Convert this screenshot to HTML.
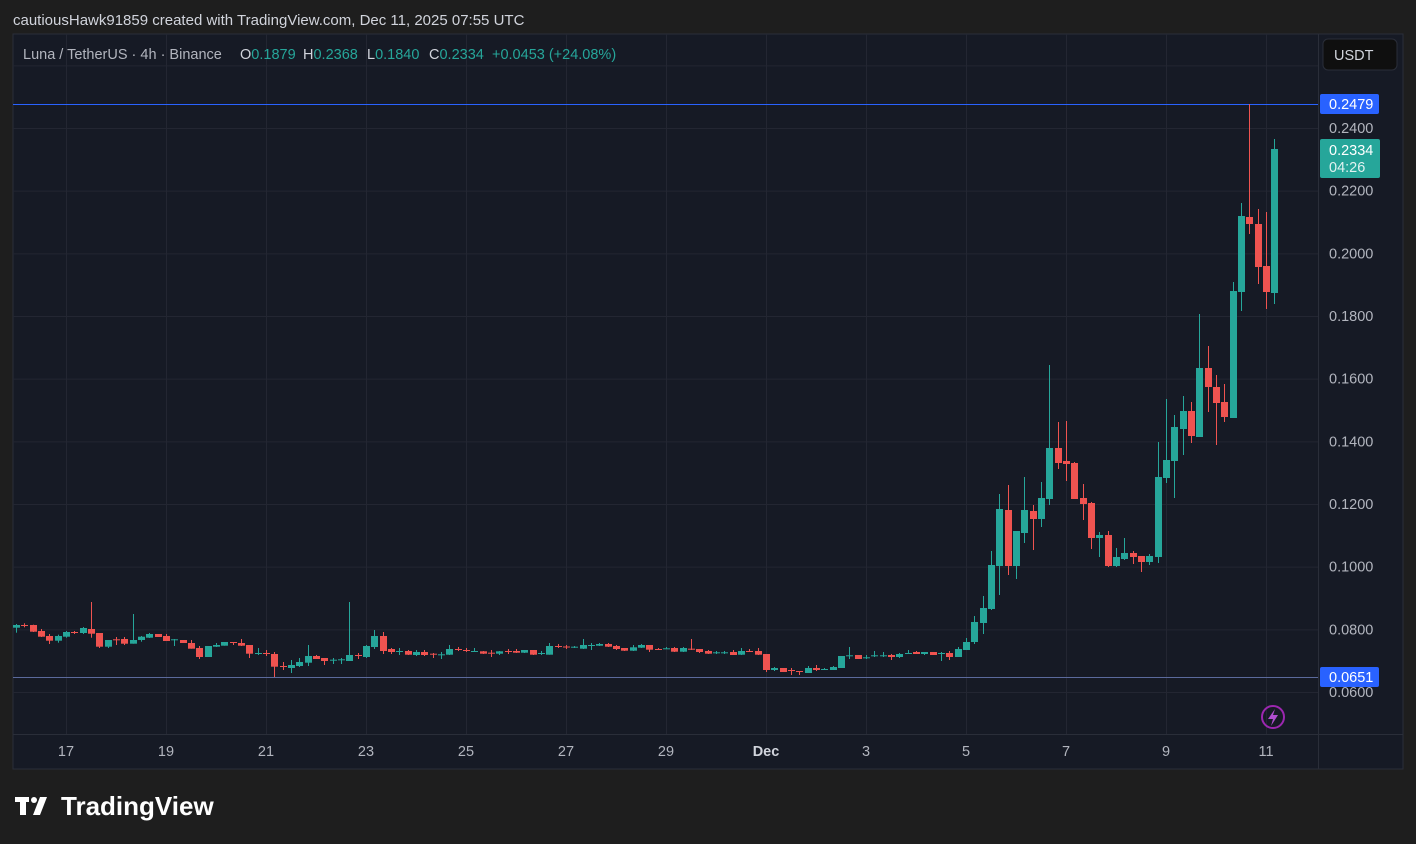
<!DOCTYPE html>
<html><head><meta charset="utf-8"><style>
body{margin:0;width:1416px;height:844px;background:#1e1e1e;overflow:hidden;font-family:"Liberation Sans",sans-serif;}
svg{position:absolute;left:0;top:0}
</style></head><body>
<svg id="s" width="1416" height="844" xmlns="http://www.w3.org/2000/svg" font-family="Liberation Sans, sans-serif">
<text x="13" y="25" fill="#d1d4dc" font-size="15">cautiousHawk91859 created with TradingView.com, Dec 11, 2025 07:55 UTC</text>
<rect x="13" y="34" width="1390" height="735" fill="#161a25" stroke="#2a2e39" stroke-width="1"/>
<g id="grid" stroke="#232632" stroke-width="1"></g>
<line x1="1318.5" y1="34" x2="1318.5" y2="769" stroke="#2a2e39"/>
<line x1="13" y1="734.5" x2="1403" y2="734.5" stroke="#2a2e39"/>
<line x1="13" y1="104.5" x2="1318" y2="104.5" stroke="#2962ff" stroke-width="1"/>
<line x1="13" y1="677.5" x2="1318" y2="677.5" stroke="#5b6a9c" stroke-width="1"/>
<g id="c"></g>
<g id="lab" fill="#b2b5be" font-size="14.5"></g>
<rect x="1320" y="94" width="59" height="20" rx="2" fill="#2962ff"/>
<text x="1329" y="109" fill="#fff" font-size="14.5">0.2479</text>
<rect x="1320" y="139" width="60" height="39" rx="2" fill="#26a69a"/>
<text x="1329" y="155" fill="#fff" font-size="14.5">0.2334</text>
<text x="1329" y="172" fill="#e0f2f1" font-size="14.5">04:26</text>
<rect x="1320" y="667" width="59" height="20" rx="2" fill="#2962ff"/>
<text x="1329" y="682" fill="#fff" font-size="14.5">0.0651</text>
<rect x="1323" y="39" width="74" height="31" rx="5" fill="#0f0f0f" stroke="#2a2e39"/>
<text x="1334" y="60" fill="#d1d4dc" font-size="14.5">USDT</text>
<g font-size="14.5">
<text x="23" y="59" fill="#b2b5be">Luna / TetherUS · 4h · Binance</text>
<text x="240" y="59" fill="#d1d4dc">O<tspan fill="#26a69a">0.1879</tspan></text>
<text x="303" y="59" fill="#d1d4dc">H<tspan fill="#26a69a">0.2368</tspan></text>
<text x="367" y="59" fill="#d1d4dc">L<tspan fill="#26a69a">0.1840</tspan></text>
<text x="429" y="59" fill="#d1d4dc">C<tspan fill="#26a69a">0.2334</tspan></text>
<text x="492" y="59" fill="#26a69a">+0.0453 (+24.08%)</text>
</g>
<circle cx="1273" cy="717" r="11" fill="none" stroke="#9c27b0" stroke-width="2"/>
<path d="M1275 709 L1268 719 L1273 719 L1271 726 L1278 715 L1273 715 Z" fill="#b04ed0"/>
<g fill="#fff"><rect x="15" y="797" width="14" height="5"/><rect x="20" y="797" width="6" height="18"/><circle cx="34" cy="800" r="3"/><path d="M40 797 L47 797 L40 815 L33 815 Z"/></g>
<text x="61" y="815" fill="#fff" font-size="26" font-weight="bold">TradingView</text>
</svg>
<script>
const D=[[627.7,624,632.7,625],[625,623.3,627.3,625.3],[625,624.7,632,631.7],[631,629,637,636.7],[636,634,644,640.7],[640.7,634.7,642.7,636],[636.7,631,637.7,632],[632,631,634,632.7],[633,627,634,628],[629,602,637.7,633.7],[633,633,648,646.7],[646.7,640,648,640],[639.3,637,645,639.5],[639,637,645,643.7],[643.7,614,643.7,640],[640,636,641.7,636.7],[637.7,633,638,634],[634,634,637,637],[636,634,641,641],[640,639,646,639.3],[640,640,643,643],[643,640,648.7,648.7],[648,646,659,657],[657,646,657,646],[646.7,643,647,645],[645.7,642,645.7,642],[642,642,645,643],[643,639,646,645.7],[645,645,658,653.7],[653.7,648,655,653],[653,650,656,653.7],[654,652,677,666.7],[666,662,670,666.7],[668,660,673,665],[666,658,667,662],[662.7,645,666,656],[656,655,659,659],[658,658,665,661],[660,658,664,659.7],[660,658,664,659.3],[661,602,661,655],[655,653,659,655.3],[657,645,658,646],[647,630,649,636],[636,632,654,651],[649,648,654,652],[652,648,655,651],[651,650,655,654.7],[655,650,656,652],[652,650,656,655],[653.7,653,658,654],[654.7,652,659,654.3],[654.7,645,655,649],[649,647,651,649.5],[650,648,652,650.5],[651.3,648,652,651],[651.3,651,654,653.7],[652.7,650,657,653],[653.7,651,655,651.3],[651,649,654,651.5],[651,649,653,652.7],[652.7,650,653,650],[650,650,655,654.7],[653.3,651,655,653],[654.7,643,654.7,646],[646,644,648,646.5],[646.5,645,649,647],[647,646,648,646.7],[648.7,639,649,645],[645.3,643,650,645],[645.7,643,646,644],[644,643,647,646.7],[646,645,650,649],[648,648,651,650.7],[650.7,645,651,647.3],[647.7,644,648,645],[645,645,652,649.7],[649,648,650,649.5],[648.7,647,649,648.3],[648,647,652,651.7],[651.7,647,652,648],[648.7,639,650,649],[649,649,653,652],[651,650,654,653.7],[652.7,651,654,652.3],[652.7,651,654,652.3],[652,650,655,655],[654.7,648,655,651],[651,649,652,651.5],[651,648,655,654.7],[654,654,672,670],[670,667,671,668],[668,668,672,672],[670,668,675,670.5],[671,671,675,671.3],[673,666,673,668],[668,665,671,670],[669.5,668,670,669],[670,666,670,667],[668,656,668,656],[655.7,647,659,655.3],[655,655,659,659],[657.5,655,659,657.3],[655.5,651,657,655.3],[655.5,652,657,655.3],[655,654,660,657],[657,653,658,654],[653.3,650,654,653],[652,651,654,654],[654,652,655,652],[652,652,655,655],[653.3,652,661,653],[653,651,660,657],[657,647,657,649],[650,638,650,642],[642,616,644,622],[623,596,634,608],[609,551,610,565],[566,494,595,509],[510,485,575,566],[566,531,579,531],[533,477,543,510],[511,505,550,519],[519,482,527,498],[499,365,505,448],[448,422,469,463],[461,421,481,464],[463,462,499,499],[498,484,520,504],[503,502,549,538],[538,532,557,535],[535,531,567,566],[566,548,567,557],[559,538,560,553],[553,551,564,557],[556,556,572,562],[562,554,565,556],[557,442,563,477],[478,399,483,460],[461,415,498,427],[429,396,455,411],[411,402,443,436],[437,314,437,368],[368,346,412,387],[387,375,445,403],[402,384,422,417],[418,282,418,291],[292,203,311,216],[217,104,234,224],[224,209,284,267],[266,212,309,292],[293,139,304,149]];
const NS="http://www.w3.org/2000/svg";
function el(p,t,a){const e=document.createElementNS(NS,t);for(const k in a)e.setAttribute(k,a[k]);p.appendChild(e);return e;}
const g=document.getElementById('c');
D.forEach((d,i)=>{const x=16+8.333*i;const[o,h,l,c]=d;const col=c<=o?'#26a69a':'#ef5350';
el(g,'rect',{x:(Math.round(x)),y:h,width:1,height:Math.max(l-h,1),fill:col});
const t=Math.min(o,c),b=Math.max(o,c);el(g,'rect',{x:Math.round(x)-3,y:t,width:7,height:Math.max(b-t,1),fill:col});});
const gr=document.getElementById('grid'),lab=document.getElementById('lab');
for(let k=0;k<=10;k++){const p=0.06+0.02*k;const y=692-(p-0.06)*3133.3;
el(gr,'line',{x1:13,x2:1318,y1:y+0.5,y2:y+0.5});
if(k<=9){const t=el(lab,'text',{x:1329,y:y+5});t.textContent=p.toFixed(4);}}
const L=['17','19','21','23','25','27','29','Dec','3','5','7','9','11'];
L.forEach((s,i)=>{const x=66+100*i;el(gr,'line',{x1:x+0.5,x2:x+0.5,y1:34,y2:734});
const t=el(lab,'text',{x:x,y:756,'text-anchor':'middle'});t.textContent=s;if(s=='Dec'){t.setAttribute('font-weight','bold');t.setAttribute('fill','#d1d4dc');}});
</script>
</body></html>
